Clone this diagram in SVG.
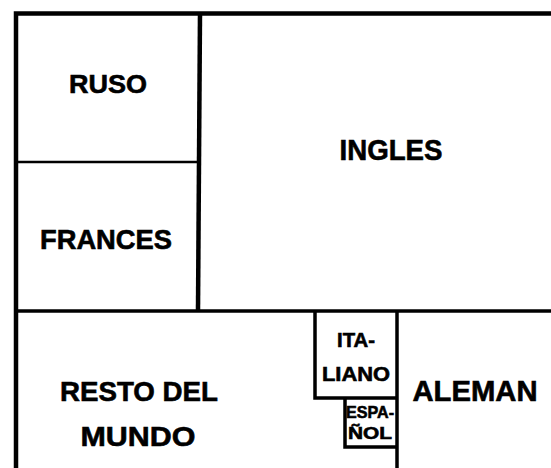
<svg xmlns="http://www.w3.org/2000/svg" width="551" height="468" viewBox="0 0 551 468">
<style>
.t{font-family:"Liberation Sans",Arial,sans-serif;font-weight:bold;fill:#000;stroke:#000;stroke-width:0.6;text-anchor:middle}
.thick{stroke:#000;stroke-width:4.5;fill:none}
.mid{stroke:#000;stroke-width:3.5;fill:none}
.thin{stroke:#000;stroke-width:2.5;fill:none}
</style>
<rect width="551" height="468" fill="#fff"/>
<g id="connectors">
<path class="thick" d="M16 468 L16 13.5 L551 13.5"/>
<path class="thick" d="M200 13 L198 311"/>
<path class="thin" d="M16 162 L199 162"/>
<path class="mid" d="M16 311 L551 311"/>
<path class="mid" d="M315 311 L315 398 L397 398"/>
<path class="mid" d="M397 311 L397 468"/>
<path class="mid" d="M345 398 L345 447 L397 447"/>
</g>
<g id="ruso"><text class="t" x="108" y="93" font-size="26" textLength="78" lengthAdjust="spacingAndGlyphs">RUSO</text></g>
<g id="ingles"><text class="t" x="391" y="160" font-size="29" textLength="103" lengthAdjust="spacingAndGlyphs">INGLES</text></g>
<g id="frances"><text class="t" x="106" y="249" font-size="27" textLength="132" lengthAdjust="spacingAndGlyphs">FRANCES</text></g>
<g id="resto"><text class="t" font-size="28"><tspan x="139" y="401" textLength="158" lengthAdjust="spacingAndGlyphs">RESTO DEL</tspan><tspan x="138" y="446" textLength="115" lengthAdjust="spacingAndGlyphs">MUNDO</tspan></text></g>
<g id="italiano"><text class="t" font-size="20"><tspan x="356" y="347" textLength="38" lengthAdjust="spacingAndGlyphs">ITA-</tspan><tspan x="356" y="381" textLength="68" lengthAdjust="spacingAndGlyphs">LIANO</tspan></text></g>
<g id="espanol"><text class="t" font-size="17"><tspan x="370" y="418" textLength="48" lengthAdjust="spacingAndGlyphs">ESPA-</tspan><tspan x="370" y="439" textLength="44" lengthAdjust="spacingAndGlyphs">ÑOL</tspan></text></g>
<g id="aleman"><text class="t" x="475" y="401" font-size="29" textLength="125" lengthAdjust="spacingAndGlyphs">ALEMAN</text></g>
</svg>
